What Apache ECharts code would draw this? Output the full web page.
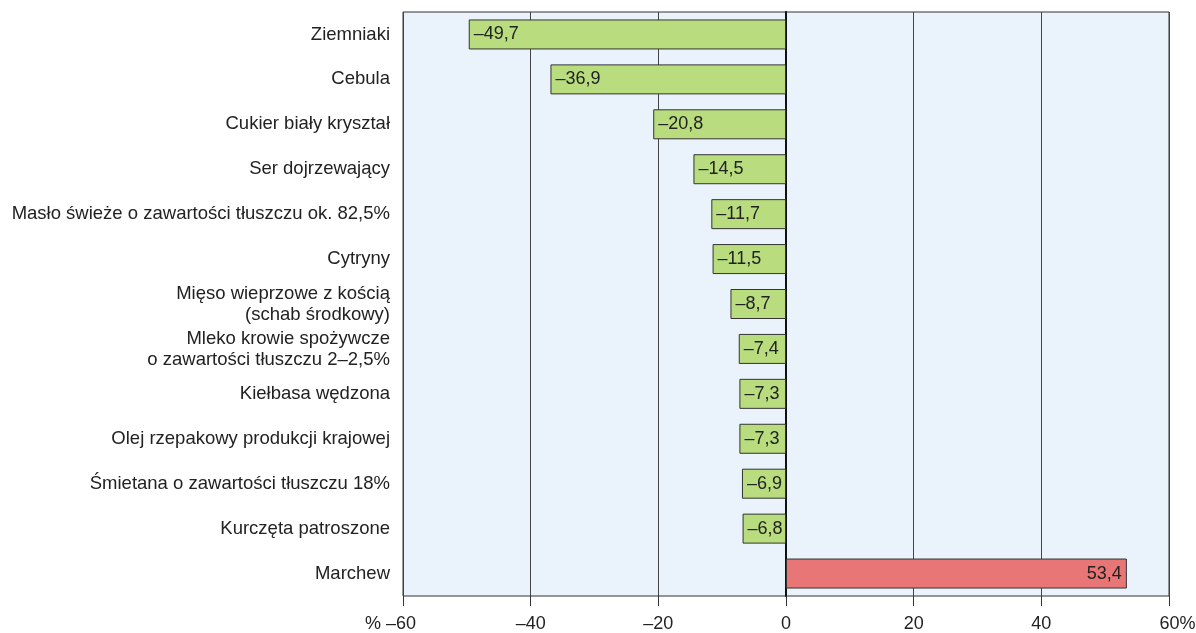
<!DOCTYPE html>
<html>
<head>
<meta charset="utf-8">
<script src="https://cdn.jsdelivr.net/npm/echarts@6/dist/echarts.min.js"></script>
<style>
  html, body { margin: 0; padding: 0; background: #fff; }
  #chart { width: 1196px; height: 633px; }
</style>
</head>
<body>
<div id="chart"></div>
<script>
const categories = [
    'Ziemniaki',
    'Cebula',
    'Cukier biały kryształ',
    'Ser dojrzewający',
    'Masło świeże o zawartości tłuszczu ok. 82,5%',
    'Cytryny',
    'Mięso wieprzowe z kością\n(schab środkowy)',
    'Mleko krowie spożywcze\no zawartości tłuszczu 2–2,5%',
    'Kiełbasa wędzona',
    'Olej rzepakowy produkcji krajowej',
    'Śmietana o zawartości tłuszczu 18%',
    'Kurczęta patroszone',
    'Marchew',
];
const changes = [-49.7, -36.9, -20.8, -14.5, -11.7, -11.5, -8.7, -7.4, -7.3, -7.3, -6.9, -6.8, 53.4];

const fmt = (v) => String(v).replace('.', ',').replace('-', '–');

const chart = echarts.init(document.getElementById('chart'));

const option = {
    animation: false,
    textStyle: { fontFamily: 'Liberation Sans, Arial, sans-serif' },
    grid: {
        left: 403,
        right: 27,
        top: 12,
        bottom: 37,
        outerBoundsMode: 'none',
        show: true,
        backgroundColor: '#EAF3FB',
        borderColor: '#333',
        borderWidth: 1,
    },
    xAxis: {
        type: 'value',
        min: -60,
        max: 60,
        interval: 20,
        axisLine: { show: false },
        axisTick: { show: true, length: 10, lineStyle: { color: '#333' } },
        splitLine: { show: true, lineStyle: { color: '#444', width: 1 } },
        axisLabel: {
            fontSize: 18,
            color: '#222',
            margin: 19,
            formatter(v) {
                if (v === -60) return '% –60{s|}';
                if (v === 60) return '{t|}60%';
                return fmt(v);
            },
            rich: {
                s: { width: 25 },
                t: { width: 17 },
            },
        },
    },
    yAxis: {
        type: 'category',
        data: categories,
        inverse: true,
        axisLine: { show: true, onZero: true, lineStyle: { color: '#111', width: 2 } },
        axisTick: { show: false },
        axisLabel: {
            fontSize: 18.5,
            color: '#222',
            margin: 13,
            lineHeight: 21,
            align: 'right',
        },
    },
    series: [
        {
            type: 'bar',
            barWidth: 30,
            data: changes.map((v) => ({
                value: v,
                itemStyle: { color: v < 0 ? '#B8DC7E' : '#E87676' },
                label: { position: v < 0 ? 'insideLeft' : 'insideRight' },
            })),
            itemStyle: { borderColor: '#333', borderWidth: 1 },
            label: {
                show: true,
                fontSize: 18,
                color: '#222',
                distance: 5,
                formatter: (p) => fmt(p.value),
            },
            z: 1,
        },
    ],
};

chart.setOption(option);
</script>
</body>
</html>
